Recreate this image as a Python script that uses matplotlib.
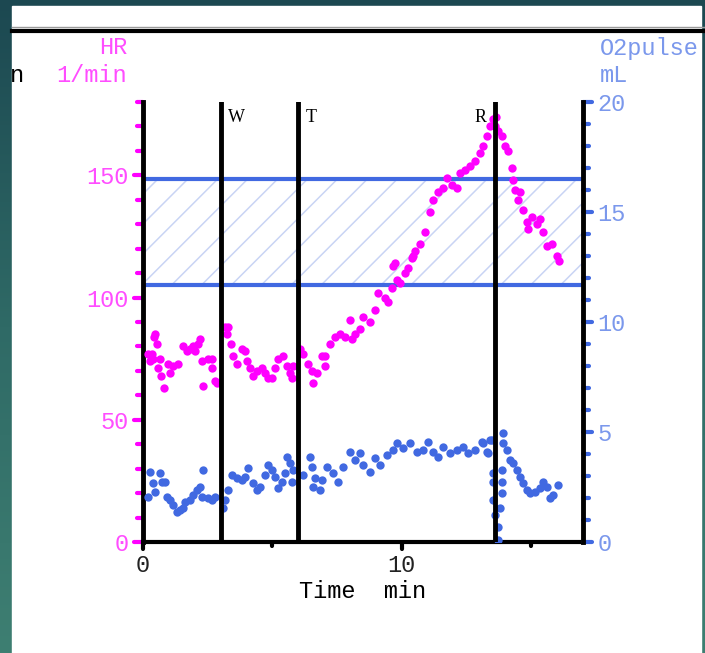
import numpy as np
import matplotlib.pyplot as plt
from matplotlib.patches import Rectangle
from matplotlib.colors import LinearSegmentedColormap
from matplotlib.markers import MarkerStyle, TICKLEFT, TICKRIGHT, TICKDOWN

plt.rcParams['font.family'] = 'Liberation Mono'

# heart rate, 1/min
hr_t = [0.19, 0.27, 0.35, 0.39, 0.42, 0.46, 0.54, 0.58, 0.66, 0.69, 0.81, 0.97, 1.04, 1.16,
        1.35, 1.54, 1.70, 1.81, 1.93, 2.01, 2.12, 2.20, 2.28, 2.32, 2.51, 2.66, 2.66, 2.78, 2.86,
        3.17, 3.24, 3.28, 3.40, 3.47, 3.63, 3.82, 3.94, 4.02, 4.13, 4.25, 4.40, 4.59, 4.71, 4.83,
        4.98, 5.10, 5.21, 5.41, 5.56, 5.68, 5.75,
        5.79, 6.06, 6.18, 6.37, 6.53, 6.56, 6.72, 6.91, 7.03, 7.03, 7.22, 7.41, 7.61, 7.80, 7.99,
        8.07, 8.19, 8.38, 8.49, 8.76, 8.96, 9.07, 9.34, 9.46, 9.61, 9.65, 9.73, 9.81, 9.92, 10.12,
        10.23, 10.39, 10.42, 10.50, 10.69, 10.89, 11.08, 11.20, 11.39, 11.58, 11.74, 11.93, 12.12,
        12.24, 12.43, 12.63, 12.82, 13.01, 13.13, 13.28, 13.40, 13.51, 13.59, 13.63,
        13.71, 13.86, 13.98, 14.09, 14.25, 14.29, 14.36, 14.48, 14.56, 14.67, 14.83, 14.86, 15.02,
        15.21, 15.33, 15.44, 15.60, 15.79, 15.98, 16.06]
hr = [77, 74, 77, 75, 84, 85, 81, 71, 75, 68, 63, 73, 69, 72,
      73, 80, 78, 79, 80, 78, 81, 83, 74, 64, 75, 71, 75, 66, 65,
      88, 85, 88, 81, 76, 73, 79, 78, 74, 71, 68, 70, 71, 69, 67,
      67, 71, 75, 76, 72, 69, 67,
      72, 79, 77, 73, 70, 65, 69, 76, 76, 72, 81, 84, 85, 84, 91,
      83, 85, 87, 92, 90, 95, 102, 100, 98, 104, 113, 114, 107, 106, 110,
      112, 116, 117, 119, 122, 127, 135, 140, 143, 145, 149, 146, 145,
      151, 152, 154, 156, 159, 162, 166, 170, 173, 170, 174,
      168, 166, 162, 160, 153, 148, 144, 140, 143, 136, 131, 128, 133,
      130, 132, 127, 121, 122, 117, 115]

# O2 pulse, mL
o2_t = [0.19, 0.27, 0.39, 0.46, 0.66, 0.73, 0.85, 0.93, 1.04, 1.16, 1.31, 1.43, 1.54, 1.62,
        1.81, 1.93, 2.08, 2.20, 2.28, 2.32, 2.51, 2.66, 2.78,
        3.09, 3.17, 3.28, 3.44, 3.63, 3.82, 3.94, 4.05, 4.25, 4.40, 4.52, 4.71, 4.83, 4.98, 5.10,
        5.21, 5.37, 5.48, 5.56, 5.68, 5.75, 5.79, 6.18, 6.45, 6.53, 6.56, 6.64, 6.83, 6.91, 7.10,
        7.34, 7.53, 7.72, 7.99, 8.19, 8.38, 8.49, 8.76, 8.96, 9.15, 9.42, 9.65, 9.81, 10.04, 10.31,
        10.58, 10.81, 11.00, 11.20, 11.39, 11.58, 11.85, 12.12, 12.36, 12.55, 12.82, 13.09, 13.13,
        13.28, 13.32, 13.40, 13.47,
        13.51, 13.51, 13.51, 13.59, 13.71, 13.71, 13.78, 13.86, 13.86, 13.86,
        13.90, 13.90, 14.05, 14.17, 14.29, 14.44, 14.56, 14.67, 14.83, 14.94, 15.14, 15.33, 15.44,
        15.60, 15.71, 15.83, 16.02]
o2 = [2.05, 3.18, 2.68, 2.27, 3.14, 2.73, 2.73, 2.05, 1.91, 1.68, 1.36, 1.45, 1.55, 1.82,
      1.91, 2.14, 2.36, 2.50, 2.05, 3.27, 2.00, 1.91, 2.05,
      1.55, 1.91, 2.36, 3.05, 2.91, 2.82, 2.95, 3.36, 2.68, 2.36, 2.50, 3.05, 3.50, 3.27, 2.95,
      2.45, 2.73, 3.14, 3.86, 3.59, 2.73, 3.27, 3.05, 3.86, 3.41, 2.50, 2.91, 2.36, 2.82, 3.41,
      3.14, 2.73, 3.41, 4.09, 3.73, 4.05, 3.50, 3.18, 3.82, 3.50, 3.95, 4.18, 4.50, 4.27, 4.50,
      4.09, 4.18, 4.55, 4.09, 3.86, 4.32, 4.05, 4.18, 4.32, 4.05, 4.18, 4.55, 4.50,
      4.09, 4.05, 4.64, 4.64,
      3.14, 2.73, 1.91, 1.23, 0.68, 0.09, 1.55, 3.27, 2.73, 2.23,
      4.95, 4.50, 4.18, 3.73, 3.59, 3.27, 2.95, 2.68, 2.36, 2.23, 2.27, 2.45, 2.73,
      2.50, 2.00, 2.14, 2.59]

phase_t = [3.0, 6.0, 13.6]
phase_lbl = ['W', 'T', 'R']
phase_side = ['left', 'left', 'right']
hr_band = (105, 148.5)

HR_C, HR_TXT = '#ff00ff', '#ff4dff'
O2_C, O2_TXT = '#4169e1', '#7b98ec'
FS = 17

W, H = 705, 653
fig = plt.figure(figsize=(W / 100, H / 100), dpi=100)

# screenshot frame: teal backdrop, white page, rule at the top
bg = fig.add_axes([0, 0, 1, 1])
teal = LinearSegmentedColormap.from_list('teal', ['#1c4851', '#2f6a66', '#3e7f72'])
bg.imshow(np.linspace(0, 1, 256).reshape(-1, 1), cmap=teal, aspect='auto', extent=[0, 1, 0, 1])
bg.add_patch(Rectangle((12 / W, 0), (701 - 12) / W, 1 - 6 / H, color='white'))
bg.plot([12 / W, 1], [1 - 27 / H] * 2, color='#9a9a9a', lw=1)
bg.plot([12 / W, 1], [1 - 31 / H] * 2, color='black', lw=3)
bg.set_xlim(0, 1)
bg.set_ylim(0, 1)
bg.axis('off')

ax = fig.add_axes([143 / W, 1 - 542 / H, 440 / W, 440 / H])
ax.set_facecolor('none')
ax2 = ax.twinx()
ax.set_xlim(0, 17)
ax.set_ylim(0, 180)
ax2.set_ylim(0, 20)

# hatched target band
band = ax.axhspan(*hr_band, facecolor='none', edgecolor='none')
for c in np.arange(0.025 - 16 * 0.068, 1, 0.068):
    ln, = ax.plot([c, c + 1], [0, 1], transform=ax.transAxes, color='#c9d4f4', lw=1.1)
    ln.set_clip_path(band)
for v in hr_band:
    ax.axhline(v, color=O2_C, lw=3, zorder=2)

ax.plot(hr_t, hr, 'o', color=HR_C, ms=6, mec='none', zorder=3)
ax2.plot(o2_t, o2, 'o', color=O2_C, ms=6, mec='none', zorder=3)

for t, lbl, side in zip(phase_t, phase_lbl, phase_side):
    ax2.axvline(t, color='black', lw=3.5, zorder=5)
    dx = 5 if side == 'left' else -6
    ax2.annotate(lbl, (t, 1), xycoords=('data', 'axes fraction'), xytext=(dx, -11),
                 textcoords='offset points', ha=side, va='center', fontsize=13,
                 family='Liberation Serif', color='black')

for s in ['top', 'right']:
    ax.spines[s].set_visible(False)
for s in ['top', 'left', 'bottom']:
    ax2.spines[s].set_visible(False)
ax.spines['left'].set_linewidth(3.5)
ax.spines['bottom'].set_linewidth(3)
ax2.spines['right'].set_linewidth(3.5)

ax.set_xticks([0, 10])
ax.set_xticks([5, 15], minor=True)
ax.tick_params(axis='x', which='both', colors='black', labelcolor='#222222', width=3,
               labelsize=FS, pad=4)
ax.tick_params(axis='x', which='major', length=5)
ax.tick_params(axis='x', which='minor', length=3)

ax.set_yticks([0, 50, 100, 150])
ax.set_yticks(range(0, 181, 10), minor=True)
ax.tick_params(axis='y', which='both', colors=HR_C, labelcolor=HR_TXT, width=3,
               labelsize=FS, pad=4)
ax.tick_params(axis='y', which='major', length=6.5)
ax.tick_params(axis='y', which='minor', length=4.5)

ax2.set_yticks([0, 5, 10, 15, 20])
ax2.set_yticks(range(0, 21), minor=True)
ax2.tick_params(axis='y', which='both', colors=O2_C, labelcolor=O2_TXT, width=3,
                labelsize=FS, pad=4)
ax2.tick_params(axis='y', which='major', length=6.5)
ax2.tick_params(axis='y', which='minor', length=4.5)

# rounded tick ends, like the dots on the original axes
for tk in ax.yaxis.get_major_ticks() + ax.yaxis.get_minor_ticks():
    tk.tick1line.set_marker(MarkerStyle(TICKLEFT, capstyle='round'))
for tk in ax2.yaxis.get_major_ticks() + ax2.yaxis.get_minor_ticks():
    tk.tick2line.set_marker(MarkerStyle(TICKRIGHT, capstyle='round'))
for tk in ax.xaxis.get_major_ticks() + ax.xaxis.get_minor_ticks():
    tk.tick1line.set_marker(MarkerStyle(TICKDOWN, capstyle='round'))

ax.set_xlabel('Time  min', fontsize=FS, labelpad=2)

fig.text(127 / W, 1 - 48 / H, 'HR', ha='right', va='center', color=HR_TXT, fontsize=FS)
fig.text(127 / W, 1 - 75 / H, '1/min', ha='right', va='center', color=HR_TXT, fontsize=FS)
fig.text(10 / W, 1 - 75 / H, 'n', ha='left', va='center', color='black', fontsize=FS)
fig.text(600 / W, 1 - 48 / H, 'O2pulse', ha='left', va='center', color=O2_TXT, fontsize=FS)
fig.text(600 / W, 1 - 75 / H, 'mL', ha='left', va='center', color=O2_TXT, fontsize=FS)

fig.savefig('out.png', dpi=100)
